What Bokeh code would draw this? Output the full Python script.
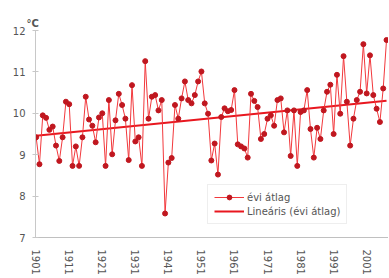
import numpy as np
from bokeh.plotting import figure
from bokeh.models import FixedTicker, Legend, LegendItem, Range1d
from bokeh.embed import file_html
from bokeh.resources import INLINE

years = list(range(1901, 2008))
temps = [
    9.42, 8.77, 9.95, 9.89, 9.60, 9.68, 9.22, 8.85, 9.42, 10.28,   # 1901-1910
    10.22, 8.73, 9.20, 8.73, 9.42, 10.40, 9.85, 9.70, 9.30, 9.90,  # 1911-1920
    10.00, 8.73, 10.32, 9.01, 9.83, 10.47, 10.20, 9.87, 8.87, 10.68,  # 1921-1930
    9.32, 9.42, 8.73, 11.26, 9.87, 10.40, 10.44, 10.07, 10.32, 7.58,  # 1931-1940
    8.81, 8.92, 10.20, 9.87, 10.36, 10.77, 10.32, 10.24, 10.44, 10.77,  # 1941-1950
    11.01, 10.24, 9.99, 8.86, 9.27, 8.52, 9.91, 10.12, 10.05, 10.08,  # 1951-1960
    10.56, 9.25, 9.20, 9.15, 8.93, 10.47, 10.30, 10.15, 9.38, 9.50,  # 1961-1970
    9.87, 9.95, 9.70, 10.32, 10.36, 9.54, 10.07, 8.97, 10.07, 8.73,  # 1971-1980
    10.03, 10.07, 10.56, 9.62, 8.93, 9.65, 9.38, 10.07, 10.52, 10.69,  # 1981-1990
    9.50, 10.93, 9.99, 11.38, 10.28, 9.22, 9.87, 10.32, 10.52, 11.67,  # 1991-2000
    10.48, 11.40, 10.44, 10.11, 9.79, 10.60, 11.77,  # 2001-2007
]
x_tick_years = list(range(1901, 2002, 10))
y_ticks = [7, 8, 9, 10, 11, 12]
series_label = "évi átlag"
trend_label = "Lineáris (évi átlag)"
unit_label = "°C"

coef = np.polyfit(years, temps, 1)
trend_x = [years[0], years[-1]]
trend_y = [float(np.polyval(coef, v)) for v in trend_x]

font = "DejaVu Sans"
p = figure(width=388, height=277, output_backend="svg", toolbar_location=None,
           x_range=Range1d(1900.8, 2007.6), y_range=Range1d(7, 12),
           min_border_left=35, min_border_right=0, min_border_top=30,
           min_border_bottom=40, title=unit_label)
p.outline_line_color = None
p.xgrid.visible = False
p.ygrid.visible = False
p.background_fill_color = "white"

p.title.text_font_size = "10px"
p.title.text_font_style = "bold"
p.title.text_color = "#555555"
p.title.text_font = font
p.title.align = "left"
p.title.offset = -9
p.title.standoff = 4

trend_r = p.line(trend_x, trend_y, line_color="#e8171f", line_width=2)
line_r = p.line(years, temps, line_color="#f2383c", line_width=1)
dots_r = p.scatter(years, temps, size=5, fill_color="#c0171f", line_color="#c0171f")

p.yaxis.ticker = FixedTicker(ticks=y_ticks)
p.yaxis.axis_line_color = "#c8c8c8"
p.yaxis.major_tick_line_color = "#c8c8c8"
p.yaxis.major_tick_in = 3
p.yaxis.major_tick_out = 3
p.yaxis.minor_tick_line_color = None
p.yaxis.major_label_text_font_size = "10px"
p.yaxis.major_label_text_color = "#555555"
p.yaxis.major_label_text_font = font
p.yaxis.major_label_standoff = 7

p.xaxis.ticker = FixedTicker(ticks=x_tick_years)
p.xaxis.axis_line_color = "#c0c0c0"
p.xaxis.major_tick_line_color = None
p.xaxis.minor_tick_line_color = None
p.xaxis.major_label_orientation = "vertical"
p.xaxis.major_label_text_font_size = "10px"
p.xaxis.major_label_text_color = "#555555"
p.xaxis.major_label_text_font = font
p.xaxis.major_label_standoff = 6

legend = Legend(items=[LegendItem(label=series_label, renderers=[line_r, dots_r]),
                       LegendItem(label=trend_label, renderers=[trend_r])],
                location=(172, 13))
legend.border_line_color = "#dddddd"
legend.background_fill_color = "white"
legend.label_text_font_size = "10px"
legend.label_text_color = "#555555"
legend.label_text_font = font
legend.glyph_width = 30
legend.glyph_height = 12
legend.label_height = 12
legend.spacing = 2
legend.padding = 6
legend.margin = 0
legend.label_standoff = 3
p.add_layout(legend)

open("out.html", "w").write(file_html(p, INLINE))
